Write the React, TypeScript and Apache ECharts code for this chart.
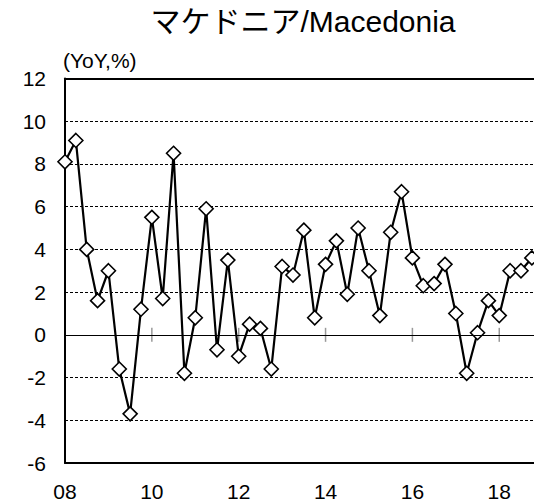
import React, { useEffect, useRef } from "react";
import * as echarts from "echarts";

const quarters: string[] = [
  "2008Q1","2008Q2","2008Q3","2008Q4",
  "2009Q1","2009Q2","2009Q3","2009Q4",
  "2010Q1","2010Q2","2010Q3","2010Q4",
  "2011Q1","2011Q2","2011Q3","2011Q4",
  "2012Q1","2012Q2","2012Q3","2012Q4",
  "2013Q1","2013Q2","2013Q3","2013Q4",
  "2014Q1","2014Q2","2014Q3","2014Q4",
  "2015Q1","2015Q2","2015Q3","2015Q4",
  "2016Q1","2016Q2","2016Q3","2016Q4",
  "2017Q1","2017Q2","2017Q3","2017Q4",
  "2018Q1","2018Q2","2018Q3","2018Q4",
];

const yoy: number[] = [
  8.1, 9.1, 4.0, 1.6,
  3.0, -1.6, -3.7, 1.2,
  5.5, 1.7, 8.5, -1.8,
  0.8, 5.9, -0.7, 3.5,
  -1.0, 0.5, 0.3, -1.6,
  3.2, 2.8, 4.9, 0.8,
  3.3, 4.4, 1.9, 5.0,
  3.0, 0.9, 4.8, 6.7,
  3.6, 2.3, 2.4, 3.3,
  1.0, -1.8, 0.1, 1.6,
  0.9, 3.0, 3.0, 3.6,
];

const tickYears: number[] = [2010, 2012, 2014, 2016, 2018];
const yTicks = { min: -6, max: 12, interval: 2 };
const xRange = { min: 2008, max: 2018.8, interval: 2 };

const title = "マケドニア/Macedonia";
const unitLabel = "(YoY,%)";

function quarterToNumber(q: string): number {
  const y = parseInt(q.slice(0, 4), 10);
  const n = parseInt(q.slice(5), 10);
  return y + (n - 1) / 4;
}

const FONT = "'Liberation Sans', Arial, 'Noto Sans CJK JP', sans-serif";

export default function App() {
  const ref = useRef<HTMLDivElement>(null);
  useEffect(() => {
    if (!ref.current) return;
    const chart = echarts.init(ref.current, null, { renderer: "svg" });
    const lineData = quarters.map((q, i) => [quarterToNumber(q), yoy[i]]);
    chart.setOption({
      animation: false,
      backgroundColor: "#ffffff",
      textStyle: { fontFamily: FONT, color: "#000" },
      graphic: [
        {
          type: "text",
          x: 303,
          y: 6,
          style: {
            text: title,
            fontFamily: FONT,
            fontSize: 30,
            fill: "#000",
            align: "center",
            verticalAlign: "top",
          },
        },
        {
          type: "text",
          x: 63,
          y: 50,
          style: { text: unitLabel, fontFamily: FONT, fontSize: 21, fill: "#000", verticalAlign: "top" },
        },
      ],
      grid: { left: 65, right: 0, top: 78.5, bottom: 41 },
      xAxis: [
        {
          type: "value",
          position: "bottom",
          min: xRange.min,
          max: xRange.max,
          interval: xRange.interval,
          axisLine: { show: true, onZero: false, lineStyle: { color: "#000", width: 2 } },
          axisTick: { show: false },
          splitLine: { show: false },
          axisLabel: {
            fontSize: 21,
            color: "#000",
            margin: 18,
            fontFamily: FONT,
            showMaxLabel: false,
            formatter: (v: number) => String(Math.round(v) % 100).padStart(2, "0"),
          },
        },
        {
          type: "value",
          position: "top",
          min: xRange.min,
          max: xRange.max,
          interval: xRange.interval,
          axisLine: { show: true, onZero: false, lineStyle: { color: "#000", width: 2 } },
          axisTick: { show: false },
          splitLine: { show: false },
          axisLabel: { show: false },
        },
      ],
      yAxis: {
        type: "value",
        min: yTicks.min,
        max: yTicks.max,
        interval: yTicks.interval,
        axisLine: { show: true, lineStyle: { color: "#000", width: 2 } },
        axisTick: { show: false },
        axisLabel: { fontSize: 21, color: "#000", margin: 19, fontFamily: FONT },
        splitLine: {
          show: true,
          showMinLine: false,
          showMaxLine: false,
          lineStyle: { color: "#000", width: 1, type: [3, 2] },
        },
      },
      series: [
        {
          type: "scatter",
          xAxisIndex: 0,
          data: tickYears.map((y) => [y, 0]),
          symbol: "rect",
          symbolSize: [1.5, 14],
          itemStyle: { color: "#808080" },
          silent: true,
          z: 1,
          markLine: {
            silent: true,
            symbol: "none",
            label: { show: false },
            lineStyle: { color: "#000", width: 1, type: "solid" },
            data: [{ yAxis: 0 }],
          },
        },
        {
          type: "line",
          xAxisIndex: 0,
          data: lineData,
          clip: false,
          z: 3,
          lineStyle: { color: "#000", width: 2.2 },
          symbol: "diamond",
          symbolSize: 14,
          showAllSymbol: true,
          itemStyle: { color: "#fff", borderColor: "#000", borderWidth: 1.6 },
        },
      ],
    });
    return () => chart.dispose();
  }, []);
  return (
    <div
      ref={ref}
      style={{ position: "absolute", left: 0, top: 0, width: 534, height: 504 }}
    />
  );
}
